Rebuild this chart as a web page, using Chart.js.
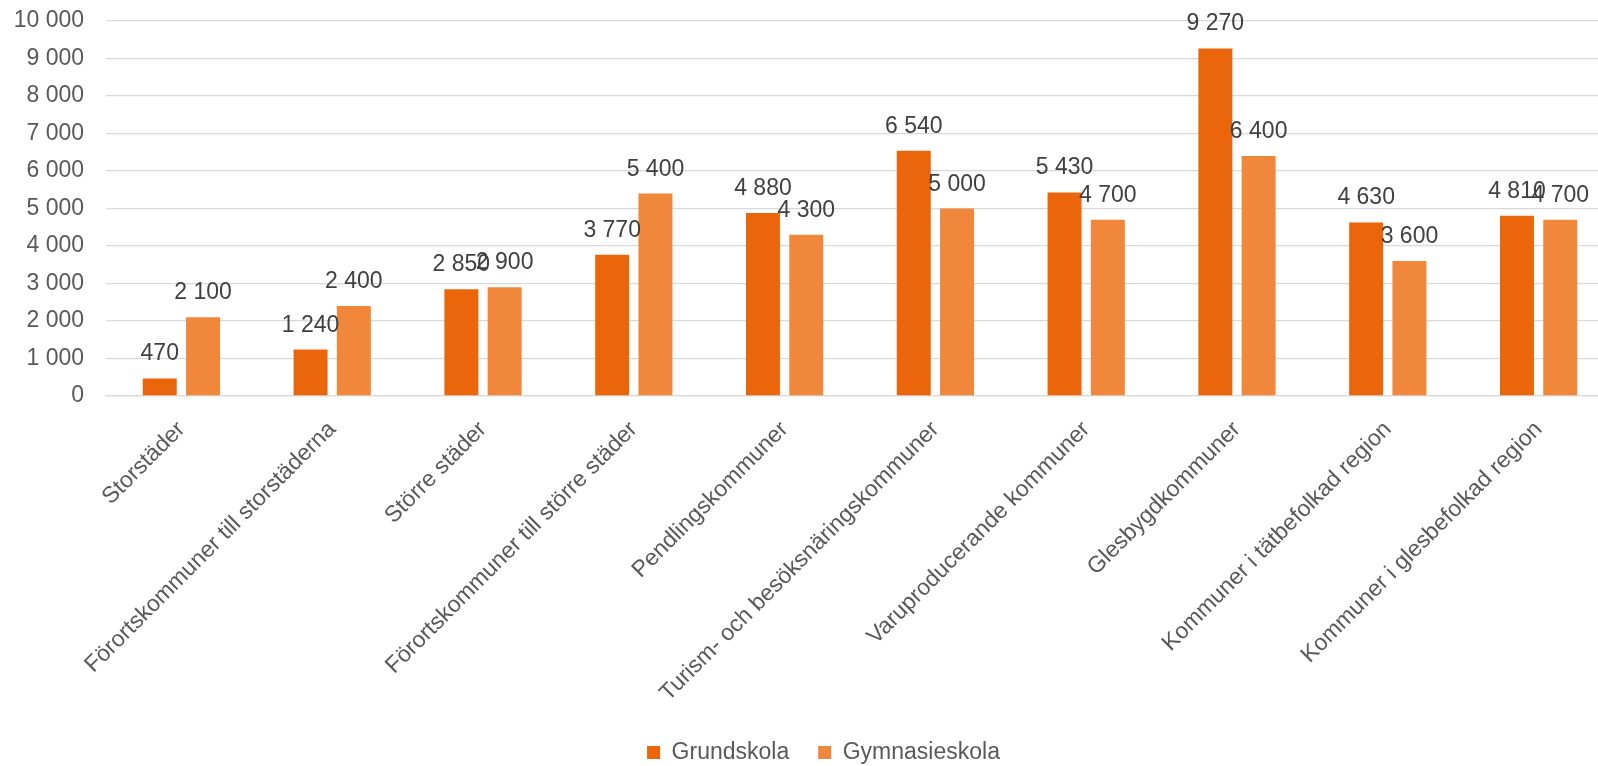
<!DOCTYPE html>
<html>
<head>
<meta charset="utf-8">
<script src="https://cdn.jsdelivr.net/npm/chart.js@4/dist/chart.umd.min.js"></script>
<style>
    body { margin: 0; overflow: hidden; background: #fff; }
    #wrap { width: 1647px; height: 766px; }
</style>
</head>
<body>
<div id="wrap"><canvas id="chart"></canvas></div>
<script>
var categories = [
    'Storstäder',
    'Förortskommuner till storstäderna',
    'Större städer',
    'Förortskommuner till större städer',
    'Pendlingskommuner',
    'Turism- och besöksnäringskommuner',
    'Varuproducerande kommuner',
    'Glesbygdkommuner',
    'Kommuner i tätbefolkad region',
    'Kommuner i glesbefolkad region'
];
var seriesNames = ['Grundskola', 'Gymnasieskola'];
var grundskola = [470, 1240, 2850, 3770, 4880, 6540, 5430, 9270, 4630, 4810];
var gymnasieskola = [2100, 2400, 2900, 5400, 4300, 5000, 4700, 6400, 3600, 4700];
var yMin = 0;
var yMax = 10000;
var yStep = 1000;

var fontFamily = "'Liberation Sans', Arial, sans-serif";

var formatNumber = function (v) {
    return String(v).replace(/\B(?=(\d{3})+(?!\d))/g, ' ');
};

// labels above each bar, like Excel's "outside end"
var barLabels = {
    id: 'barLabels',
    afterDatasetsDraw: function (chart) {
        var ctx = chart.ctx;
        ctx.save();
        ctx.font = '23px ' + fontFamily;
        ctx.fillStyle = '#404040';
        ctx.textAlign = 'center';
        ctx.textBaseline = 'alphabetic';
        chart.data.datasets.forEach(function (ds, i) {
            var meta = chart.getDatasetMeta(i);
            meta.data.forEach(function (bar, j) {
                ctx.fillText(formatNumber(ds.data[j]), bar.x, bar.y - 18);
            });
        });
        ctx.restore();
    }
};

// the original legend sits a little right of the plot centre
var legendShift = {
    id: 'legendShift',
    afterLayout: function (chart) {
        if (chart.legend) {
            chart.legend.left += 10;
            chart.legend.right += 10;
        }
    }
};

var ctx = document.getElementById('chart').getContext('2d');
var myChart = new Chart(ctx, {
    type: 'bar',
    data: {
        labels: categories,
        datasets: [{
            label: seriesNames[0],
            data: grundskola,
            backgroundColor: '#EB660A',
            categoryPercentage: 0.574,
            barPercentage: 0.785
        }, {
            label: seriesNames[1],
            data: gymnasieskola,
            backgroundColor: '#F0873B',
            categoryPercentage: 0.574,
            barPercentage: 0.785
        }]
    },
    options: {
        responsive: true,
        maintainAspectRatio: false,
        animation: false,
        layout: {
            padding: { left: 13, right: 33, top: 21, bottom: -8 }
        },
        plugins: {
            legend: {
                position: 'bottom',
                labels: {
                    boxWidth: 13,
                    boxHeight: 13,
                    padding: 29,
                    color: '#595959',
                    font: { family: fontFamily, size: 23 }
                }
            },
            tooltip: { enabled: false }
        },
        scales: {
            x: {
                grid: { display: false, drawTicks: false },
                border: { color: '#d9d9d9', width: 1.3 },
                ticks: {
                    autoSkip: false,
                    minRotation: 45,
                    maxRotation: 45,
                    padding: 20,
                    color: '#595959',
                    font: { family: fontFamily, size: 23 }
                },
                afterFit: function (scale) {
                    scale.paddingLeft = 0;
                    scale.paddingRight = 0;
                    scale.height = 316;
                }
            },
            y: {
                min: yMin,
                max: yMax,
                grid: { color: '#d9d9d9', lineWidth: 1.3, drawTicks: false },
                border: { display: false },
                ticks: {
                    stepSize: yStep,
                    padding: 22,
                    color: '#595959',
                    font: { family: fontFamily, size: 23 },
                    callback: function (value) { return formatNumber(value); }
                },
                afterFit: function (scale) {
                    scale.width = 93;
                    scale.paddingTop = 0;
                    scale.paddingBottom = 0;
                }
            }
        }
    },
    plugins: [barLabels, legendShift]
});
</script>
</body>
</html>
